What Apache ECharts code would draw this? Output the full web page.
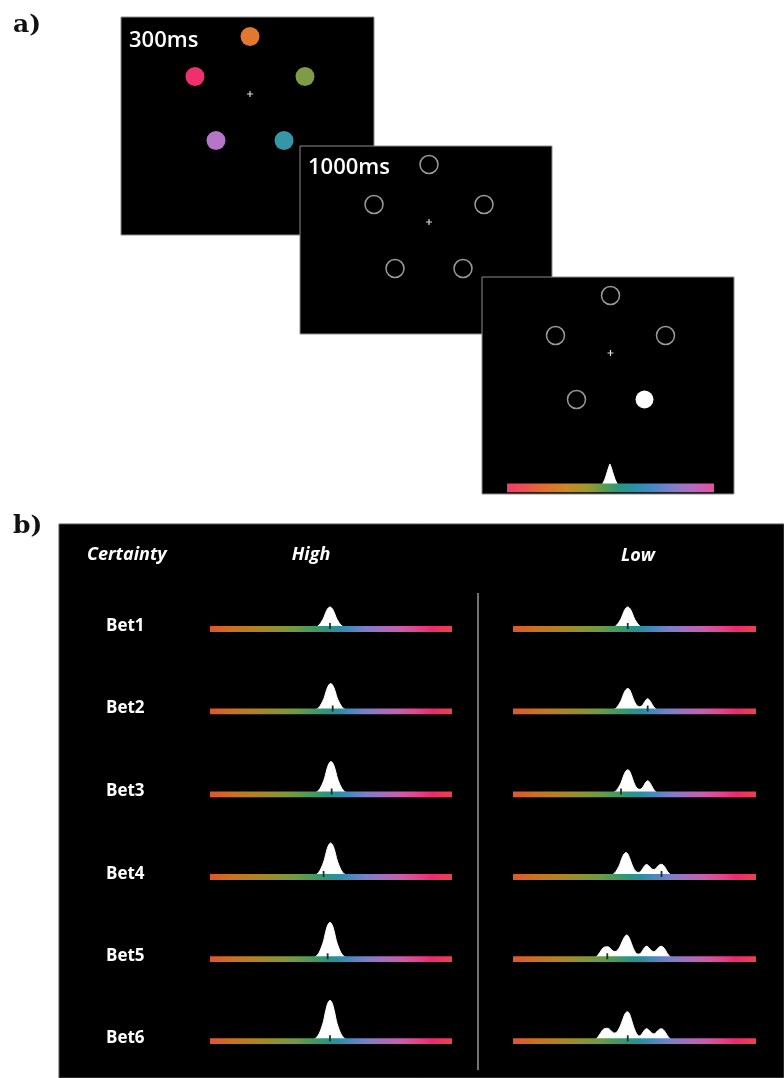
<!DOCTYPE html>
<html><head><meta charset="utf-8">
<script src="https://cdn.jsdelivr.net/npm/echarts@6/dist/echarts.min.js"></script>
<style>html,body{margin:0;padding:0;background:#fff}#c{width:784px;height:1078px}</style>
</head><body><div id="c"></div>
<script>
// ---------- DATA ----------
// Panel a: stimulus layout (offset from fixation, px in screen units)
const stimDX = [0, -55, 55, -34, 34];
const stimDY = [-57.5, -17.5, -17.5, 46.5, 46.5];
const sampleColors = ['#E2772F', '#F0306E', '#7E9B45', '#B676C8', '#3596A9'];
const probedItem = 4;
const screenLabels = ['300ms', '1000ms'];
// response distribution on the probe colour wheel (deg, height)
const probeCurve = [[148,0],[158,0.8],[164,2.6],[168,6],[171.5,11],[174.5,16.5],[177.3,21.5],[179,24],[180.7,21.5],[183.5,16.5],[186.5,11],[190,6],[194,2.6],[200,0.8],[210,0]];

// Panel b
const rowLabels = ['Bet1', 'Bet2', 'Bet3', 'Bet4', 'Bet5', 'Bet6'];
const columnLabels = ['High', 'Low'];
const cornerLabel = 'Certainty';
const highTicks = [178.5, 182.5, 181, 169, 175, 178.5];
const lowTicks = [170, 199.5, 160, 220, 139.7, 170];

const highBet1 = [[138.5,0],[150.5,0.5],[156.5,1.5],[160.5,3],[163.5,5],[166.5,8],[169,11],[171,14.5],[173.5,18.5],[176,21],[178.5,22],[181,21],[183.5,18.5],[186,14.5],[188,11],[190.5,8],[193.5,5],[196.5,3],[200.5,1.5],[206.5,0.5],[218.5,0]];
const highBet2 = [[139.5,0],[151.5,0.6],[157.5,1.9],[161.5,3.8],[164.5,6.4],[167.5,10.2],[170,14],[172,18.5],[174.5,23.5],[177,26.7],[179.5,28],[182,26.7],[184.5,23.5],[187,18.5],[189,14],[191.5,10.2],[194.5,6.4],[197.5,3.8],[201.5,1.9],[207.5,0.6],[219.5,0]];
const highBet3 = [[140,0],[152,0.8],[158,2.2],[162,4.5],[165,7.5],[168,12],[170.5,16.5],[172.5,21.8],[175,27.7],[177.5,31.5],[180,33],[182.5,31.5],[185,27.7],[187.5,21.8],[189.5,16.5],[192,12],[195,7.5],[198,4.5],[202,2.2],[208,0.8],[220,0]];
const highBet4 = [[139.5,0],[151.5,0.8],[157.5,2.3],[161.5,4.6],[164.5,7.7],[167.5,12.4],[170,17],[172,22.4],[174.5,28.6],[177,32.5],[179.5,34],[182,32.5],[184.5,28.6],[187,22.4],[189,17],[191.5,12.4],[194.5,7.7],[197.5,4.6],[201.5,2.3],[207.5,0.8],[219.5,0]];
const highBet5 = [[138.5,0],[150.5,0.9],[156.5,2.5],[160.5,5],[163.5,8.4],[166.5,13.5],[169,18.5],[171,24.4],[173.5,31.1],[176,35.3],[178.5,37],[181,35.3],[183.5,31.1],[186,24.4],[188,18.5],[190.5,13.5],[193.5,8.4],[196.5,5],[200.5,2.5],[206.5,0.9],[218.5,0]];
const highBet6 = [[138.5,0],[150.5,0.9],[156.5,2.8],[160.5,5.6],[163.5,9.3],[166.5,14.9],[169,20.5],[171,27.1],[173.5,34.4],[176,39.2],[178.5,41],[181,39.2],[183.5,34.4],[186,27.1],[188,20.5],[190.5,14.9],[193.5,9.3],[196.5,5.6],[200.5,2.8],[206.5,0.9],[218.5,0]];

const lowBet1 = [[130,0],[142,0.5],[148,1.5],[152,3],[155,5],[158,8],[160.5,11],[162.5,14.5],[165,18.5],[167.5,21],[170,22],[172.5,21],[175,18.5],[177.5,14.5],[179.5,11],[182,8],[185,5],[188,3],[192,1.5],[198,0.5],[210,0]];
const lowBet2 = [[130,0],[142,0.5],[148,1.6],[152,3.1],[155,5.2],[158,8.4],[160.5,11.5],[162.5,15.2],[165,19.3],[167.5,22],[170,23],[172.5,22],[175,18.5],[177.5,14],[180,10],[182.5,7],[185,5.2],[188,4.7],[191,5.7],[194,8.5],[197,11.5],[199.5,12.7],[202,11.5],[205,8.5],[208,5.2],[212,2.4],[217,0.8],[226,0]];
const lowBet3 = [[130,0],[142,0.6],[148,1.7],[152,3.4],[155,5.6],[158,9],[160.5,12.4],[162.5,16.3],[165,20.7],[167.5,23.6],[170,24.7],[172.5,23.6],[175,19.8],[177.5,15],[180,10.6],[182.5,7.4],[185,5.7],[188,5.2],[191,6.2],[194,9.2],[197,12.5],[199.5,13.7],[202,12.5],[205,9.2],[208,5.6],[212,2.5],[217,0.8],[226,0]];
const lowBet4 = [[127.4,0],[139.4,0.6],[145.4,1.7],[149.4,3.3],[152.4,5.5],[155.4,8.9],[157.9,12.2],[159.9,16.1],[162.4,20.5],[164.9,23.3],[167.4,24.4],[169.9,23.3],[172.4,19.6],[175,14.8],[177.5,10.5],[180,7.3],[183,5.2],[186,4.6],[189,5.6],[192,8.2],[195,11.2],[198,12.4],[201,11.2],[204,9],[207,7.6],[209,7.5],[211,8.1],[214,10.3],[217,12.2],[220,12.7],[223,11.6],[226,8.8],[229,5.4],[233,2.5],[238,0.8],[246,0]];
const lowBet5 = [[108,0],[118,0.7],[123,2.3],[127,5.3],[130.5,8.8],[133.5,11.4],[136.7,12.4],[139.7,12.6],[142.5,12],[145.5,10],[148.5,8.2],[151,7.7],[154,8.6],[157,11],[160,15],[163,19.5],[166,23],[168.4,24.3],[171,23],[174,18.5],[177,13],[180,8.6],[183,5.8],[186,5.2],[189,6],[192,8.8],[195,11.8],[198,13],[201,11.8],[204,9.5],[207,7.9],[209,7.7],[211,8.3],[214,10.5],[217,12.5],[220,13],[223,11.8],[226,9],[229,5.5],[233,2.5],[238,0.8],[246,0]];
const lowBet6 = [[108,0],[118,0.7],[123,2.4],[127,5.5],[130.5,9],[133.5,11.8],[136.7,12.8],[139.7,13],[142.5,12.4],[145.5,10.4],[148.5,8.6],[151,8.2],[154,9.6],[157,12.6],[160,17],[163,22.5],[166,27.5],[169.4,29.6],[172.5,27.5],[175.5,21.5],[178.5,15],[181.5,9.8],[184.5,6.3],[187,5.4],[190,6.5],[193,9.5],[196,12],[198,12.5],[201,11.4],[204,9.2],[207,7.7],[209,7.5],[211,8.1],[214,10.2],[217,12],[220,12.5],[223,11.4],[226,8.7],[229,5.3],[233,2.4],[238,0.8],[246,0]];

const highCurves = [highBet1, highBet2, highBet3, highBet4, highBet5, highBet6];
const lowCurves = [lowBet1, lowBet2, lowBet3, lowBet4, lowBet5, lowBet6];

// ---------- STYLE / LAYOUT ----------
const wheelStopsB = [
  [0,'#E4522E'],[0.10,'#CC7020'],[0.20,'#B08420'],[0.29,'#8E9232'],[0.36,'#6E9A44'],[0.42,'#4A9A5A'],
  [0.48,'#2A9580'],[0.53,'#2A8FA2'],[0.58,'#4A88C0'],[0.64,'#7880C8'],[0.70,'#A070C0'],
  [0.77,'#C460B0'],[0.84,'#E04890'],[0.91,'#F02870'],[1,'#E84840']
];
const wheelStopsA = [
  [0,'#F0386E'],[0.1,'#EC5050'],[0.2,'#E0702E'],[0.3,'#C88A22'],[0.4,'#9A9A2E'],[0.47,'#5A9C50'],
  [0.54,'#2A9880'],[0.61,'#2A90A8'],[0.70,'#4A88C8'],[0.80,'#8A7CC8'],[0.88,'#B46CC0'],[0.95,'#D858A8'],[1,'#E85090']
];
function grad(stops){ return new echarts.graphic.LinearGradient(0,0,1,0, stops.map(s=>({offset:s[0], color:s[1]}))); }

const grids = [], xAxes = [], yAxes = [], series = [];
function addGrid(g, xr, yr, inv){
  grids.push(g); const i = grids.length - 1;
  xAxes.push({type:'value', gridIndex:i, min:xr[0], max:xr[1], show:false});
  yAxes.push({type:'value', gridIndex:i, min:yr[0], max:yr[1], inverse:!!inv, show:false});
  return i;
}
const plusPath = 'path://M4,0L6,0L6,4L10,4L10,6L6,6L6,10L4,10L4,6L0,6L0,4L4,4Z';

// Screens
const screens = [
  {left:121, top:17, width:253, height:218, cx:129, cy:77},
  {left:300, top:146, width:252, height:188, cx:129, cy:76},
  {left:482, top:277, width:252, height:217, cx:128.5, cy:76}
];
screens.forEach((s, k) => {
  const gi = addGrid({left:s.left, top:s.top, width:s.width, height:s.height, show:true,
      backgroundColor:'#000', borderColor:'#8c8c8c', borderWidth:1, z:k},
    [-s.cx, s.width - s.cx], [-s.cy, s.height - s.cy], true);
  const data = stimDX.map((x, i) => {
    let st;
    if (k === 0) st = {color: sampleColors[i], borderWidth:0, opacity:1};
    else if (k === 2 && i === probedItem) st = {color:'#fff', borderWidth:0, opacity:1};
    else st = {color:'rgba(0,0,0,0)', borderColor:'#9a9a9a', borderWidth:1.5, opacity:1};
    return {value:[x, stimDY[i]], itemStyle: st};
  });
  series.push({type:'scatter', xAxisIndex:gi, yAxisIndex:gi, symbol:'circle',
    symbolSize: k === 0 ? 19 : 18, data, z:10, silent:true, itemStyle:{opacity:1}});
  series.push({type:'scatter', xAxisIndex:gi, yAxisIndex:gi, symbol:plusPath, symbolSize:6,
    itemStyle:{color:'#d8d8d8', opacity:1}, data:[[0,0]], z:10, silent:true});
});
// probe colour wheel in screen 3
{
  const gi = addGrid({left:507, top:448, width:207, height:40}, [0,360], [0,40]);
  series.push({type:'line', xAxisIndex:gi, yAxisIndex:gi, data:probeCurve, smooth:0.4, symbol:'none',
    lineStyle:{color:'#fff', width:1}, areaStyle:{color:'#fff', opacity:1}, z:11, silent:true});
  series.push({type:'line', xAxisIndex:gi, yAxisIndex:gi, data:[[0,0],[360,0]], symbol:'none',
    lineStyle:{color:grad(wheelStopsA), width:9, cap:'butt'}, z:12, silent:true});
}
// Panel b background
addGrid({left:59, top:524, right:0, bottom:0, show:true, backgroundColor:'#000', borderColor:'#555', borderWidth:1, z:0}, [0,1], [0,1]);

const rowY = [629, 711.5, 794.5, 877, 959.3, 1041.3];
const cols = [{left:210, width:242, curves:highCurves, ticks:highTicks},
              {left:513, width:243, curves:lowCurves, ticks:lowTicks}];
cols.forEach(c => {
  rowY.forEach((y, r) => {
    const gi = addGrid({left:c.left, width:c.width, top:y - 50, height:50}, [0,360], [0,50]);
    series.push({type:'line', xAxisIndex:gi, yAxisIndex:gi, data:c.curves[r], smooth:0.4, symbol:'none',
      lineStyle:{color:'#fff', width:1}, areaStyle:{color:'#fff', opacity:1}, z:11, silent:true});
    series.push({type:'line', xAxisIndex:gi, yAxisIndex:gi, data:[[0,0],[360,0]], symbol:'none',
      lineStyle:{color:grad(wheelStopsB), width:6, cap:'butt'}, z:12, silent:true});
    series.push({type:'scatter', xAxisIndex:gi, yAxisIndex:gi, symbol:'rect', symbolSize:[1.8,6],
      itemStyle:{color:'#2a2a2a', opacity:1}, data:[[c.ticks[r], 3]], z:13, silent:true});
  });
});

// Text
const txt = (x, y, text, font, align) => ({type:'text', z:100, silent:true,
  style:{x, y, text, font, fill:'#fff', textAlign:align || 'left', align:align || 'left',
         textVerticalAlign:'middle', verticalAlign:'middle'}});
const graphics = [
  {type:'text', z:100, silent:true, style:{x:13, y:25, text:'a)', font:'bold 25px "DejaVu Serif"', fill:'#111', textVerticalAlign:'middle', verticalAlign:'middle'}},
  {type:'text', z:100, silent:true, style:{x:13, y:526, text:'b)', font:'bold 25px "DejaVu Serif"', fill:'#111', textVerticalAlign:'middle', verticalAlign:'middle'}},
  txt(129, 41, screenLabels[0], '600 22px "Open Sans"'),
  txt(308, 168, screenLabels[1], '600 22px "Open Sans"'),
  txt(87, 555, cornerLabel, 'italic bold 18px "Open Sans"'),
  txt(311, 555, columnLabels[0], 'italic bold 18px "Open Sans"', 'center'),
  txt(638, 556, columnLabels[1], 'italic bold 18px "Open Sans"', 'center'),
  {type:'line', z:100, silent:true, shape:{x1:478, y1:593, x2:478, y2:1070}, style:{stroke:'#9a9a9a', lineWidth:1.5}}
];
rowLabels.forEach((t, r) => graphics.push(txt(106, rowY[r] - 3, t, 'bold 17px "Open Sans"')));

const chart = echarts.init(document.getElementById('c'), null, {renderer:'canvas'});
chart.setOption({animation:false, backgroundColor:'#fff', grid:grids, xAxis:xAxes, yAxis:yAxes, series, graphic:graphics});
</script></body></html>
